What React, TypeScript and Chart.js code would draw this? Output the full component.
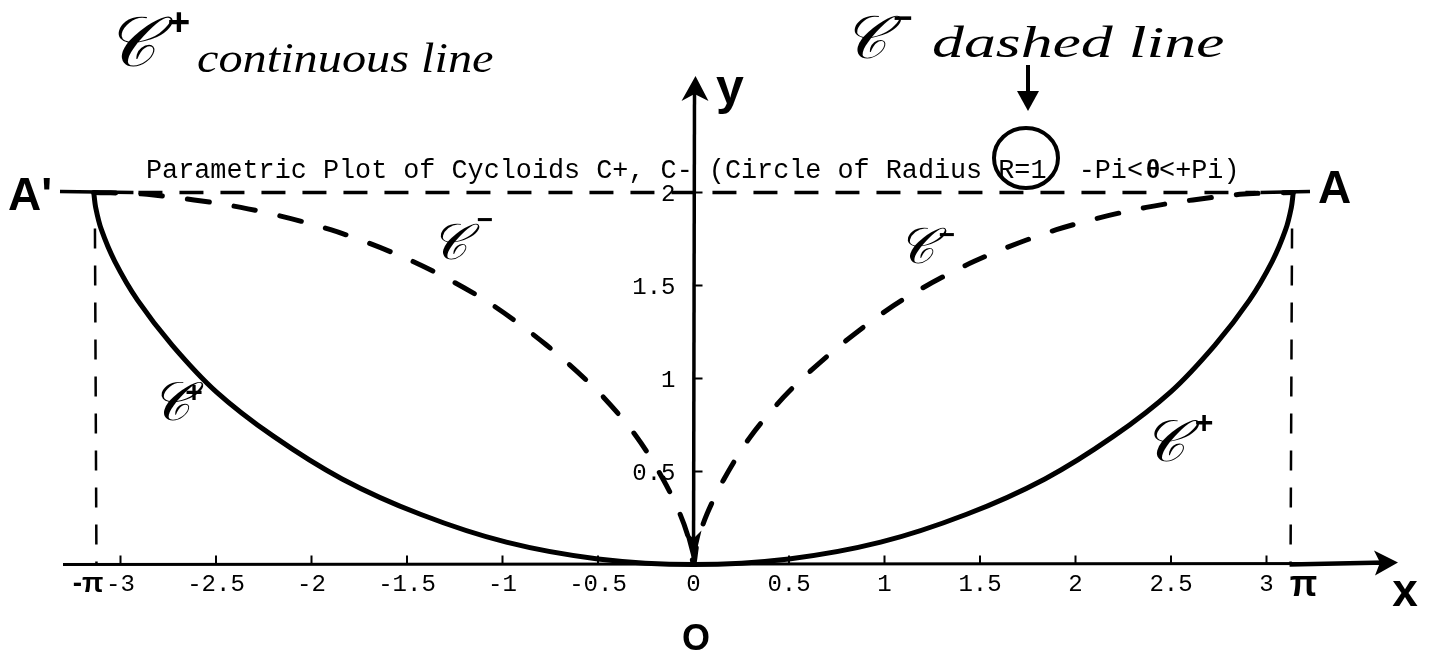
import React, { useEffect, useRef } from "react";
import { Chart, registerables } from "chart.js";

Chart.register(...registerables);

// C+ (continuous line)
const cPlusX = [-3.14, -3.13, -3.10, -3.03, -2.91, -2.73, -2.50, -2.20, -1.84, -1.43, -0.98, -0.50, 0, 0.50, 0.98, 1.43, 1.84, 2.20, 2.50, 2.73, 2.91, 3.03, 3.10, 3.13, 3.14];
const cPlusY = [2.00, 1.92, 1.80, 1.63, 1.42, 1.18, 0.93, 0.69, 0.46, 0.27, 0.12, 0.03, 0, 0.03, 0.12, 0.27, 0.46, 0.69, 0.93, 1.18, 1.42, 1.63, 1.80, 1.92, 2.00];

// C- (dashed line)
const cMinusX = [-3.14, -2.86, -2.37, -1.90, -1.47, -1.09, -0.77, -0.50, -0.30, -0.16, -0.07, -0.02, 0, 0.02, 0.07, 0.16, 0.30, 0.50, 0.77, 1.09, 1.47, 1.90, 2.37, 2.86, 3.14];
const cMinusY = [2.00, 1.99, 1.92, 1.80, 1.63, 1.42, 1.18, 0.93, 0.69, 0.46, 0.27, 0.12, 0, 0.12, 0.27, 0.46, 0.69, 0.93, 1.18, 1.42, 1.63, 1.80, 1.92, 1.99, 2.00];

const xTickValues = [-3, -2.5, -2, -1.5, -1, -0.5, 0, 0.5, 1, 1.5, 2, 2.5, 3];
const xTickLabels = ["-3", "-2.5", "-2", "-1.5", "-1", "-0.5", "0", "0.5", "1", "1.5", "2", "2.5", "3"];
const yTickValues = [0.5, 1, 1.5, 2];
const yTickLabels = ["0.5", "1", "1.5", "2"];

const PI_VALUE = 3.1416;
const TOP_VALUE = 2;

const titleBefore = "Parametric Plot of Cycloids C+, C- (Circle of Radius R=1  -Pi<";
const titleTheta = "θ";
const titleAfter = "<+Pi)";

const SC = "𝒞";
const MONO = '"Liberation Mono", "DejaVu Sans Mono", monospace';
const HAND = '"Liberation Serif", "DejaVu Serif", serif';
const SANS = '"Liberation Sans", "DejaVu Sans", sans-serif';

const overlay = {
  id: "overlay",
  beforeDatasetsDraw(chart: any) {
    const ctx = chart.ctx;
    const X = (v: number) => chart.scales.x.getPixelForValue(v);
    const Y = (v: number) => chart.scales.y.getPixelForValue(v);
    ctx.save();
    ctx.strokeStyle = "#000";
    ctx.fillStyle = "#000";

    // horizontal dashed line y = 2
    ctx.lineWidth = 3.5;
    ctx.setLineDash([24, 17]);
    ctx.beginPath();
    ctx.moveTo(X(-PI_VALUE) + 45, Y(TOP_VALUE));
    ctx.lineTo(X(PI_VALUE) - 38, Y(TOP_VALUE));
    ctx.stroke();
    ctx.setLineDash([]);
    ctx.beginPath();
    ctx.moveTo(60, Y(TOP_VALUE) - 1);
    ctx.lineTo(X(-PI_VALUE) + 40, Y(TOP_VALUE));
    ctx.moveTo(X(PI_VALUE) - 33, Y(TOP_VALUE));
    ctx.lineTo(1310, Y(TOP_VALUE) - 1);
    ctx.stroke();

    // vertical dashed lines at +-pi
    ctx.lineWidth = 2.5;
    ctx.setLineDash([20, 17]);
    for (const v of [-PI_VALUE, PI_VALUE]) {
      ctx.beginPath();
      ctx.moveTo(X(v) + (v < 0 ? 1.5 : -1.5), Y(TOP_VALUE) + 36);
      ctx.lineTo(X(v) + (v < 0 ? 3 : -3), Y(0));
      ctx.stroke();
    }
    ctx.setLineDash([]);

    // x axis
    ctx.lineWidth = 3;
    ctx.beginPath();
    ctx.moveTo(63, Y(0));
    ctx.lineTo(1385, Y(0) - 1);
    ctx.stroke();
    ctx.lineWidth = 4.5;
    ctx.beginPath();
    ctx.moveTo(X(PI_VALUE) - 4, Y(0));
    ctx.lineTo(1385, Y(0) - 2);
    ctx.stroke();
    ctx.beginPath();
    ctx.moveTo(1398, Y(0) - 2);
    ctx.lineTo(1374, Y(0) - 14);
    ctx.lineTo(1380, Y(0) - 2);
    ctx.lineTo(1375, Y(0) + 11);
    ctx.closePath();
    ctx.fill();

    // y axis
    ctx.lineWidth = 3.5;
    ctx.beginPath();
    ctx.moveTo(X(0), Y(0));
    ctx.lineTo(X(0) + 1, 90);
    ctx.stroke();
    ctx.beginPath();
    ctx.moveTo(X(0) + 2, 76);
    ctx.lineTo(X(0) - 12, 101);
    ctx.lineTo(X(0) + 1, 94);
    ctx.lineTo(X(0) + 15, 101);
    ctx.closePath();
    ctx.fill();
    // arrow head pointing to origin
    ctx.beginPath();
    ctx.moveTo(X(0), Y(0));
    ctx.lineTo(X(0) - 9, Y(0) - 34);
    ctx.lineTo(X(0), Y(0) - 26);
    ctx.lineTo(X(0) + 8, Y(0) - 34);
    ctx.closePath();
    ctx.fill();

    // ticks
    ctx.lineWidth = 2;
    ctx.beginPath();
    for (const v of xTickValues) {
      if (v === 0) continue;
      ctx.moveTo(X(v), Y(0));
      ctx.lineTo(X(v), Y(0) - 9);
    }
    for (const v of yTickValues) {
      ctx.moveTo(X(0), Y(v));
      ctx.lineTo(X(0) + 9, Y(v));
    }
    ctx.stroke();

    // tick labels
    ctx.font = `24px ${MONO}`;
    ctx.textBaseline = "alphabetic";
    ctx.textAlign = "center";
    xTickValues.forEach((v, i) => ctx.fillText(xTickLabels[i], X(v), Y(0) + 26));
    ctx.textAlign = "right";
    yTickValues.forEach((v, i) => ctx.fillText(yTickLabels[i], X(0) - 18, Y(v) + 8));

    // title
    ctx.font = `26.8px ${MONO}`;
    ctx.textAlign = "left";
    ctx.fillText(titleBefore, 146, 178);
    const w1 = ctx.measureText(titleBefore).width;
    const w2 = ctx.measureText("t").width;
    ctx.fillText(titleAfter, 146 + w1 + w2, 178);
    ctx.font = `bold 26px ${SANS}`;
    ctx.textAlign = "center";
    ctx.fillText(titleTheta, 146 + w1 + w2 / 2 + 2, 178);
    ctx.restore();
  },
  afterDatasetsDraw(chart: any) {
    const ctx = chart.ctx;
    const X = (v: number) => chart.scales.x.getPixelForValue(v);
    const Y = (v: number) => chart.scales.y.getPixelForValue(v);
    ctx.save();
    ctx.fillStyle = "#000";
    ctx.strokeStyle = "#000";
    ctx.textBaseline = "middle";
    ctx.textAlign = "center";

    const curveLabel = (cx: number, cy: number, size: number, sup: string, sx: number, sy: number) => {
      ctx.font = `italic ${size}px ${HAND}`;
      ctx.textAlign = "center";
      ctx.textBaseline = "middle";
      ctx.fillText(SC, cx, cy);
      ctx.font = `bold ${Math.round(size * 0.55)}px ${SANS}`;
      ctx.fillText(sup, sx, sy);
    };
    const stretched = (str: string, x: number, y: number, size: number, sx: number) => {
      ctx.save();
      ctx.translate(x, y);
      ctx.scale(sx, 1);
      ctx.font = `italic ${size}px ${HAND}`;
      ctx.textAlign = "left";
      ctx.textBaseline = "alphabetic";
      ctx.fillText(str, 0, 0);
      ctx.restore();
    };

    // top annotations
    curveLabel(130, 48, 70, "+", 179, 24);
    stretched("continuous line", 197, 72, 42, 1.15);
    curveLabel(865, 42, 60, "−", 903, 20);
    stretched("dashed line", 932, 57, 44, 1.45);

    // arrow to circled R=1
    ctx.lineWidth = 4;
    ctx.beginPath();
    ctx.moveTo(1028, 65);
    ctx.lineTo(1028, 96);
    ctx.stroke();
    ctx.beginPath();
    ctx.moveTo(1028, 111);
    ctx.lineTo(1017, 91);
    ctx.lineTo(1039, 91);
    ctx.closePath();
    ctx.fill();
    ctx.beginPath();
    ctx.ellipse(1026, 158, 32, 30, 0, 0, Math.PI * 2);
    ctx.stroke();

    // curve labels
    curveLabel(449, 246, 50, "−", 485, 221);
    curveLabel(916, 250, 50, "−", 947, 236);
    curveLabel(170, 406, 54, "+", 194, 394);
    curveLabel(1164, 446, 58, "+", 1204, 424);

    // points A, A'
    ctx.font = `bold 46px ${SANS}`;
    ctx.textAlign = "left";
    ctx.textBaseline = "alphabetic";
    ctx.fillText("A'", 8, 210);
    ctx.fillText("A", 1318, 203);

    // axis letters
    ctx.textAlign = "center";
    ctx.font = `bold 50px ${SANS}`;
    ctx.fillText("y", 730, 104);
    ctx.font = `bold 46px ${SANS}`;
    ctx.fillText("x", 1405, 606);
    ctx.font = `bold 36px ${SANS}`;
    ctx.fillText("O", 696, 650);

    // pi labels
    ctx.font = `bold 28px ${SANS}`;
    ctx.textAlign = "right";
    ctx.fillText("-π", X(-PI_VALUE) + 10, Y(0) + 27);
    ctx.textAlign = "center";
    ctx.font = `bold 36px ${SANS}`;
    ctx.fillText("π", X(PI_VALUE) + 10, Y(0) + 31);
    ctx.restore();
  },
};

export default function App() {
  const ref = useRef<HTMLCanvasElement | null>(null);
  useEffect(() => {
    if (!ref.current) return;
    const chart = new Chart(ref.current, {
      type: "scatter",
      data: {
        datasets: [
          {
            label: "C+",
            data: cPlusX.map((x, i) => ({ x, y: cPlusY[i] })),
            showLine: true,
            borderColor: "#000",
            backgroundColor: "#000",
            borderWidth: 5,
            pointRadius: 0,
            tension: 0.3,
            fill: false,
          },
          {
            label: "C-",
            data: cMinusX.map((x, i) => ({ x, y: cMinusY[i] })),
            showLine: true,
            borderColor: "#000",
            backgroundColor: "#000",
            borderWidth: 5,
            borderDash: [22, 25],
            borderCapStyle: "round",
            pointRadius: 0,
            tension: 0.3,
            fill: false,
          },
        ],
      },
      options: {
        animation: false,
        responsive: false,
        devicePixelRatio: 1,
        layout: { padding: { left: 5.9, right: 28.8, top: 80.9, bottom: 13.1 } },
        scales: {
          x: { type: "linear", min: -3.6, max: 3.7, display: false },
          y: { type: "linear", min: -0.4, max: 2.6, display: false },
        },
        plugins: {
          legend: { display: false },
          tooltip: { enabled: false },
          title: { display: false },
        },
      },
      plugins: [overlay],
    } as any);
    return () => chart.destroy();
  }, []);
  return (
    <div style={{ position: "fixed", left: 0, top: 0, width: 1429, height: 652, background: "#fff" }}>
      <canvas ref={ref} width={1429} height={652} style={{ width: 1429, height: 652, display: "block" }} />
    </div>
  );
}
